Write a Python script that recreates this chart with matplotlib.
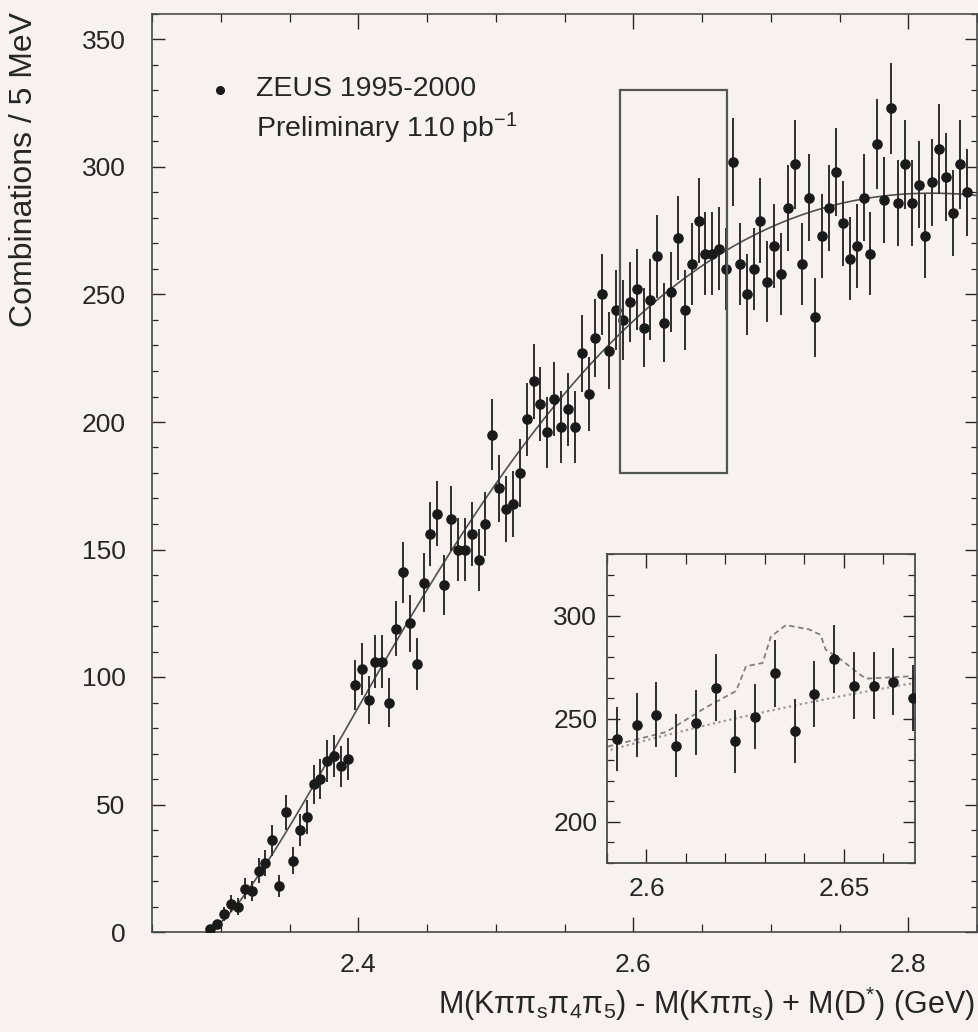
import numpy as np
import matplotlib
matplotlib.use("Agg")
import matplotlib.pyplot as plt
from matplotlib.ticker import MultipleLocator, FixedLocator
from matplotlib.patches import Rectangle

# ---------------- data ----------------
bin_width = 0.005          # GeV (5 MeV bins)
first_bin_center = 2.2925  # GeV
counts = [1, 3, 7, 11, 10, 17, 16, 24, 27, 36,
          18, 47, 28, 40, 45, 58, 60, 67, 69, 65,
          68, 97, 103, 91, 106, 106, 90, 119, 141, 121,
          105, 137, 156, 164, 136, 162, 150, 150, 156, 146,
          160, 195, 174, 166, 168, 180, 201, 216, 207, 196,
          209, 198, 205, 198, 227, 211, 233, 250, 228, 244,
          240, 247, 252, 237, 248, 265, 239, 251, 272, 244,
          262, 279, 266, 266, 268, 260, 302, 262, 250, 260,
          279, 255, 269, 258, 284, 301, 262, 288, 241, 273,
          284, 298, 278, 264, 269, 288, 266, 309, 287, 323,
          286, 301, 286, 293, 273, 294, 307, 296, 282, 301,
          290]
threshold = 2.289          # kinematic threshold of the background fit

# dashed (signal + background expectation) curve in the inset
dashed_x = [2.5902, 2.6050, 2.6151, 2.6227, 2.6252, 2.6294, 2.6315, 2.6353,
            2.6412, 2.6441, 2.6454, 2.6487, 2.6530, 2.6555, 2.6677]
dashed_y = [236.5, 243.6, 255.6, 263.5, 275.5, 277.1, 289.9, 295.5,
            293.4, 290.7, 283.5, 279.5, 273.1, 269.5, 270.7]

main_xlim = (2.25, 2.85)
main_ylim = (0, 360)
inset_xlim = (2.59, 2.668)
inset_ylim = (180, 330)

legend_lines = ["ZEUS 1995-2000", r"Preliminary 110 pb$^{\mathrm{-1}}$"]
xlabel = r"M(Kππ$_\mathrm{s}$π$_\mathrm{4}$π$_\mathrm{5}$) - M(Kππ$_\mathrm{s}$) + M(D$^{*}$) (GeV)"
ylabel = "Combinations / 5 MeV"

# ---------------- style ----------------
BG = "#f7f2f0"
INK = "#262626"
plt.rcParams["font.family"] = ["Liberation Sans", "DejaVu Sans"]
plt.rcParams["mathtext.fontset"] = "custom"
plt.rcParams["mathtext.rm"] = "Liberation Sans"
plt.rcParams["mathtext.it"] = "Liberation Sans:italic"
plt.rcParams["mathtext.bf"] = "Liberation Sans:bold"
plt.rcParams["text.color"] = INK
plt.rcParams["axes.edgecolor"] = INK
plt.rcParams["xtick.color"] = INK
plt.rcParams["ytick.color"] = INK

counts = np.asarray(counts, dtype=float)
x = first_bin_center + bin_width * np.arange(len(counts))
yerr = np.sqrt(counts)

# background fit: A * dx^a * exp(b dx + c dx^2), weighted LSQ in log space
dx = x - threshold
good = counts > 0
A = np.column_stack([np.ones(good.sum()), np.log(dx[good]), dx[good], dx[good] ** 2])
w = np.sqrt(counts[good])
coef = np.linalg.lstsq(A * w[:, None], np.log(counts[good]) * w, rcond=None)[0]
xf = np.linspace(threshold + 1e-4, main_xlim[1], 600)
dxf = xf - threshold
yf = np.exp(coef[0] + coef[1] * np.log(dxf) + coef[2] * dxf + coef[3] * dxf ** 2)

W, H = 979, 1032
fig = plt.figure(figsize=(W / 100, H / 100), dpi=100, facecolor=BG)

# ---------------- main axes ----------------
L, R, T, B = 152, 977, 14, 932
ax = fig.add_axes([L / W, 1 - B / H, (R - L) / W, (B - T) / H], facecolor=BG)
ax.set_xlim(*main_xlim)
ax.set_ylim(*main_ylim)
for s in ax.spines.values():
    s.set_linewidth(1.2)
    s.set_color("#4a4a4a")

ax.errorbar(x, counts, yerr=yerr, fmt="o", ms=6.6, color="#1a1a1a",
            ecolor="#2e2e2e", elinewidth=1.4, capsize=0, zorder=3)
ax.plot(xf, yf, color="#505050", lw=1.2, zorder=2)

ax.add_patch(Rectangle((inset_xlim[0], inset_ylim[0]),
                       inset_xlim[1] - inset_xlim[0], inset_ylim[1] - inset_ylim[0],
                       fill=False, ec="#555555", lw=1.6, zorder=4))

ax.xaxis.set_major_locator(FixedLocator([2.4, 2.6, 2.8]))
ax.xaxis.set_minor_locator(MultipleLocator(0.05))
ax.yaxis.set_major_locator(MultipleLocator(50))
ax.yaxis.set_minor_locator(MultipleLocator(10))
ax.set_xticklabels(["2.4", "2.6", "2.8"])
ax.tick_params(which="both", direction="in", top=True, right=True, labelsize=19)
ax.tick_params(axis="x", which="major", length=11, width=1.0, pad=15)
ax.tick_params(axis="x", which="minor", length=6, width=0.9)
ax.tick_params(axis="y", which="major", length=9, width=1.0, pad=19)
ax.tick_params(axis="y", which="minor", length=4.5, width=0.9)

# legend
ax.plot([(220 - L) / (R - L)], [(B - 90) / (B - T)], "o", ms=5.5, color="#1a1a1a",
        transform=ax.transAxes, clip_on=False)
ax.text((256 - L) / (R - L), (B - 89) / (B - T), legend_lines[0], fontsize=20.5,
        va="center", ha="left", transform=ax.transAxes)
ax.text((256 - L) / (R - L), (B - 128) / (B - T), legend_lines[1], fontsize=20.5,
        va="center", ha="left", transform=ax.transAxes)

fig.text(975 / W, 1 - 1014 / H, xlabel, fontsize=22, ha="right", va="baseline")
fig.text(24 / W, 1 - 12 / H, ylabel, fontsize=23, rotation=90, ha="center", va="top")

# ---------------- inset ----------------
iL, iR, iT, iB = 607, 915, 554, 863
axi = fig.add_axes([iL / W, 1 - iB / H, (iR - iL) / W, (iB - iT) / H], facecolor=BG)
axi.set_xlim(*inset_xlim)
axi.set_ylim(*inset_ylim)
for s in axi.spines.values():
    s.set_linewidth(1.3)
    s.set_color("#4a4a4a")
sel = (x > inset_xlim[0]) & (x < inset_xlim[1])
axi.errorbar(x[sel], counts[sel], yerr=yerr[sel], fmt="o", ms=6.6, color="#1a1a1a",
             ecolor="#2e2e2e", elinewidth=1.4, capsize=0, zorder=3)
axi.plot(xf, yf, color="#9a9a9a", lw=1.6, ls=(0, (1, 1.5)), zorder=2)
axi.plot(dashed_x, dashed_y, color="#808080", lw=1.3, ls=(0, (3, 2)), zorder=2)
axi.xaxis.set_major_locator(FixedLocator([2.6, 2.65]))
axi.xaxis.set_minor_locator(MultipleLocator(0.01))
axi.yaxis.set_major_locator(MultipleLocator(50))
axi.yaxis.set_minor_locator(MultipleLocator(10))
axi.set_xticklabels(["2.6", "2.65"])
axi.tick_params(which="both", direction="in", top=True, right=True, labelsize=19)
axi.tick_params(axis="x", which="major", length=10, width=1.0, pad=10)
axi.tick_params(axis="x", which="minor", length=7, width=0.9)
axi.tick_params(axis="y", which="major", length=9, width=1.0, pad=7)
axi.tick_params(axis="y", which="minor", length=5, width=0.9)

fig.savefig("out.png", dpi=100, facecolor=BG)
